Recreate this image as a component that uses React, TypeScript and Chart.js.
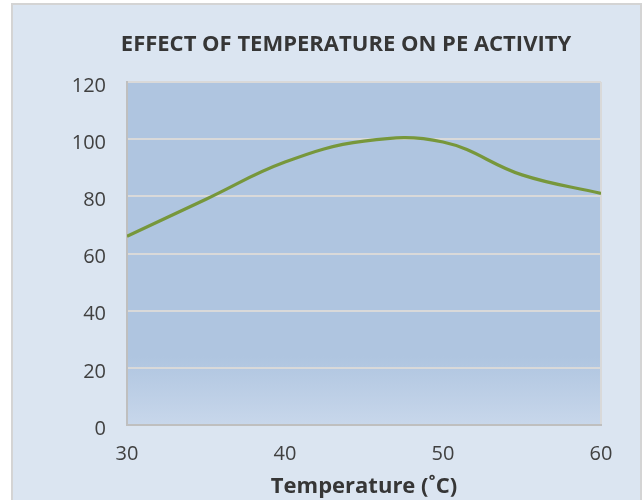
import React, { useEffect, useRef } from "react";
import { Chart, registerables } from "chart.js";

Chart.register(...registerables);

const temperatures = [30, 35, 40, 45, 50, 55, 60];
const activity = [66, 79, 92, 99.3, 99, 87.5, 81];
const xTicks = [30, 40, 50, 60];
const yTicks = [0, 20, 40, 60, 80, 100, 120];
const chartTitle = "EFFECT OF TEMPERATURE ON PE ACTIVITY";
const xTitle = "Temperature (˚C)";

const FONT = "'Open Sans', 'Noto Sans', sans-serif";

const backgroundPlugin = {
  id: "bgPlugin",
  beforeDraw(chart: any) {
    const { ctx, chartArea, width, height } = chart;
    ctx.save();
    ctx.fillStyle = "#ffffff";
    ctx.fillRect(0, 0, width, height);
    ctx.fillStyle = "#dbe5f1";
    ctx.fillRect(12, 4, 630, height);
    ctx.strokeStyle = "#d4d4d4";
    ctx.lineWidth = 2;
    ctx.strokeRect(12, 4, 629, height + 4);
    const g = ctx.createLinearGradient(0, chartArea.top, 0, chartArea.bottom);
    g.addColorStop(0, "#afc5e0");
    g.addColorStop(0.8, "#afc5e0");
    g.addColorStop(1, "#c8d7eb");
    ctx.fillStyle = g;
    ctx.fillRect(chartArea.left, chartArea.top, chartArea.right - chartArea.left, chartArea.bottom - chartArea.top);
    ctx.restore();
  },
  afterDraw(chart: any) {
    const { ctx } = chart;
    ctx.save();
    ctx.fillStyle = "#363636";
    ctx.font = `bold 22px ${FONT}`;
    ctx.textAlign = "center";
    ctx.textBaseline = "middle";
    ctx.fillText(chartTitle, 346, 45);
    ctx.restore();
  },
};

export default function App() {
  const ref = useRef<HTMLCanvasElement | null>(null);
  useEffect(() => {
    if (!ref.current) return;
    const chart = new Chart(ref.current, {
      type: "line",
      data: {
        datasets: [
          {
            data: temperatures.map((t, i) => ({ x: t, y: activity[i] })),
            borderColor: "#77973b",
            borderWidth: 3.2,
            pointRadius: 0,
            tension: 0.4,
            fill: false,
          },
        ],
      },
      options: {
        animation: false,
        responsive: false,
        layout: { padding: { left: 0, right: 42, top: 82, bottom: 0 } },
        plugins: {
          legend: { display: false },
          tooltip: { enabled: false },
          title: { display: false },
        },
        scales: {
          x: {
            type: "linear",
            min: 30,
            max: 60,
            afterBuildTicks: (s: any) => {
              s.ticks = xTicks.map((v) => ({ value: v }));
            },
            afterFit: (s: any) => {
              s.height = 75;
            },
            ticks: {
              color: "#404040",
              font: { family: FONT, size: 20 },
              padding: 17,
            },
            grid: {
              drawTicks: false,
              color: (c: any) => (c.tick && c.tick.value === 60 ? "#d9d9d9" : "rgba(0,0,0,0)"),
              lineWidth: 2,
            },
            border: { color: "#bfbfbf", width: 2 },
            title: {
              display: true,
              text: xTitle,
              color: "#363636",
              font: { family: FONT, size: 22, weight: "bold" },
              padding: { top: 0, bottom: 0.5 },
            },
          },
          y: {
            min: 0,
            max: 120,
            afterBuildTicks: (s: any) => {
              s.ticks = yTicks.map((v) => ({ value: v }));
            },
            afterFit: (s: any) => {
              s.width = 127;
            },
            ticks: {
              color: "#404040",
              font: { family: FONT, size: 20 },
              padding: 21,
              labelOffset: 4,
            },
            grid: { drawTicks: false, color: "#d9d9d9", lineWidth: 2 },
            border: { color: "#bfbfbf", width: 2 },
          },
        },
      },
      plugins: [backgroundPlugin],
    });
    return () => chart.destroy();
  }, []);
  return (
    <canvas
      ref={ref}
      width={643}
      height={500}
      style={{ position: "fixed", left: 0, top: 0, width: 643, height: 500 }}
    />
  );
}
